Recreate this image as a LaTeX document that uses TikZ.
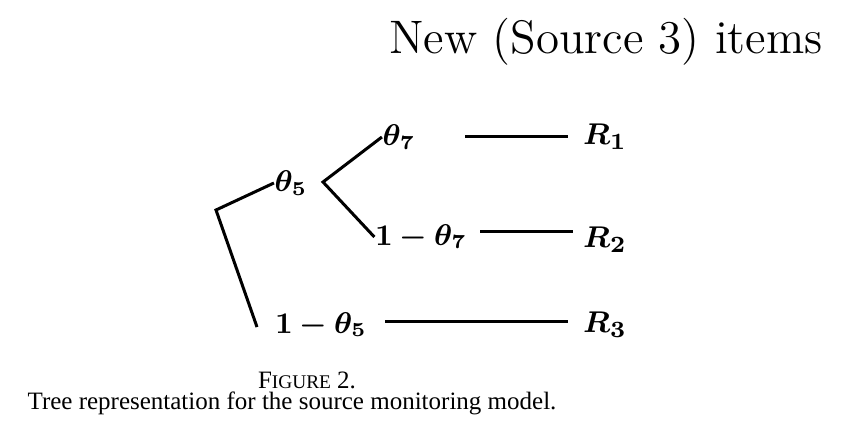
\documentclass[tikz,border=0pt]{standalone}
\usepackage{amsmath,amssymb,bm}
\usepackage{fontspec}
\newfontfamily\capfont{Liberation Serif}
\usetikzlibrary{positioning}

\tikzset{
  branch/.style={line width=0.9pt},
  prob/.style={inner sep=0pt, font=\fontsize{8.8}{10}\selectfont},
  outcome/.style={inner sep=0pt, font=\fontsize{9.5}{11}\selectfont},
  heading/.style={inner sep=0pt, font=\fontsize{14.1}{16}\selectfont},
  caption/.style={inner sep=0pt, anchor=base, font=\capfont\fontsize{7.5}{9}\selectfont}
}

\begin{document}
\begin{tikzpicture}[x=0.3pt,y=-0.3pt]
\useasboundingbox (0,0) rectangle (856,431);

% Heading
\node[heading] (head) at (606,42) {New (Source 3) items};

% Tree
\coordinate (root) at (216,210);
\coordinate (fork) at (323,182);
\coordinate (stem) at (257,327);
\node[prob] (t5) at (291,183) {$\bm{\theta_5}$};
\node[prob] (t7) at (399,137) {$\bm{\theta_7}$};
\node[prob] (n7) at (421,237) {$\bm{1-\theta_7}$};
\node[prob] (n5) at (321,325) {$\bm{1-\theta_5}$};

\draw[branch] (t5.west) -- (root) -- (stem);
\draw[branch] (t7.west) -- (fork) -- (n7.west);

% Outcomes
\node[outcome] (r1) at (605,137) {$\bm{R_1}$};
\node[outcome] (r2) at (605,240) {$\bm{R_2}$};
\node[outcome] (r3) at (605,325) {$\bm{R_3}$};

\coordinate (a1) at (465,136);
\coordinate (b1) at (568,136);
\coordinate (a2) at (480,231);
\coordinate (b2) at (573,231);
\coordinate (a3) at (385,321);
\coordinate (b3) at (568,321);
\draw[branch] (a1) -- (b1);
\draw[branch] (a2) -- (b2);
\draw[branch] (a3) -- (b3);

% Caption
\node[caption] (fig) at (307,388) {F{\fontsize{5.8}{7}\selectfont IGURE} 2.};
\node[caption] (cap) at (292,409) {Tree representation for the source monitoring model.};

\end{tikzpicture}
\end{document}
